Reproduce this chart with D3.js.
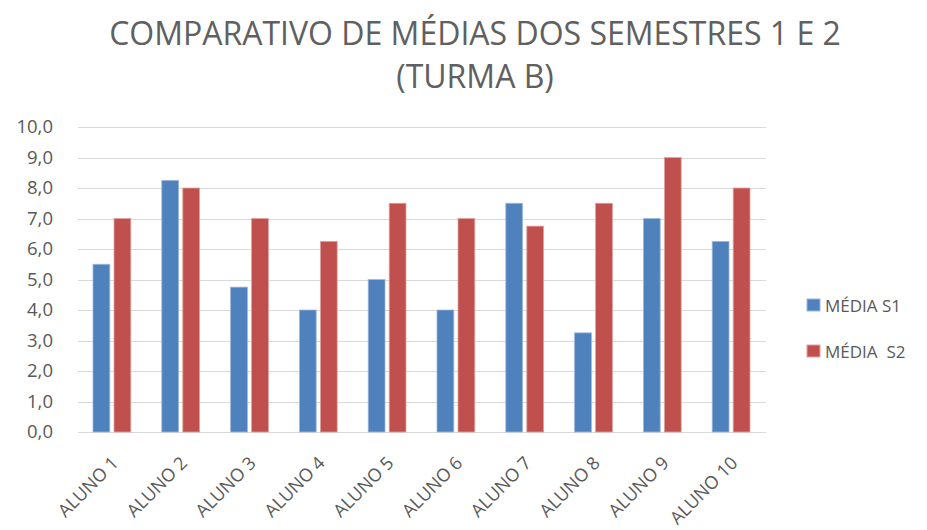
<!DOCTYPE html>
<html>
<head>
<meta charset="utf-8">
<script src="https://cdn.jsdelivr.net/npm/d3@7"></script>
<style>
  body { margin: 0; background: #fff; }
  svg text { font-family: "Open Sans", sans-serif; fill: #595959; }
</style>
</head>
<body>
<div id="chart"></div>
<script>
// dados do gráfico
var alunos = ["ALUNO 1", "ALUNO 2", "ALUNO 3", "ALUNO 4", "ALUNO 5",
              "ALUNO 6", "ALUNO 7", "ALUNO 8", "ALUNO 9", "ALUNO 10"];
var mediaS1 = [5.5, 8.25, 4.75, 4.0, 5.0, 4.0, 7.5, 3.25, 7.0, 6.25];
var mediaS2 = [7.0, 8.0, 7.0, 6.25, 7.5, 7.0, 6.75, 7.5, 9.0, 8.0];
var series = ["MÉDIA S1", "MÉDIA  S2"];
var yTicks = [0, 1, 2, 3, 4, 5, 6, 7, 8, 9, 10];

var W = 927, H = 530;
var margin = { left: 78, right: 161, top: 127, bottom: 98 };

var svg = d3.select("#chart").append("svg")
  .attr("width", W).attr("height", H);

// titulo
var title = svg.append("text")
  .attr("x", 475).attr("text-anchor", "middle")
  .style("font-size", "32px").style("fill", "#606060");
title.append("tspan").attr("x", 475).attr("y", 45).text("COMPARATIVO DE MÉDIAS DOS SEMESTRES 1 E 2");
title.append("tspan").attr("x", 475).attr("y", 88).text("(TURMA B)");

// escalas
var x = d3.scaleBand().domain(alunos)
  .range([margin.left, W - margin.right]);
var x1 = d3.scaleBand().domain([0, 1])
  .range([15, x.bandwidth() - 16]).paddingInner(0.2);
var y = d3.scaleLinear().domain([0, 10])
  .range([H - margin.bottom, margin.top]);

// linhas de grade
svg.append("g").selectAll("line").data(yTicks).enter().append("line")
  .attr("x1", margin.left).attr("x2", W - margin.right)
  .attr("y1", function (d) { return Math.round(y(d)) + 0.5; })
  .attr("y2", function (d) { return Math.round(y(d)) + 0.5; })
  .style("stroke", "#d9d9d9").style("stroke-width", 1.2);

// eixo y
var yAxis = svg.append("g")
  .attr("transform", "translate(" + (margin.left - 8) + ",0)")
  .call(d3.axisLeft(y).tickValues(yTicks).tickSize(0)
    .tickFormat(function (d) { return d.toFixed(1).replace(".", ","); }));
yAxis.select(".domain").remove();
yAxis.selectAll("text").style("font-size", "18.5px").attr("x", -17);

// barras
var cores = ["#4F81BD", "#C0504D"];
var bordas = ["#9db8dc", "#e0a3a1"];
[mediaS1, mediaS2].forEach(function (vals, s) {
  svg.append("g").selectAll("rect").data(vals).enter().append("rect")
    .attr("x", function (d, i) { return x(alunos[i]) + x1(s); })
    .attr("width", x1.bandwidth())
    .attr("y", function (d) { return y(d); })
    .attr("height", function (d) { return y(0) - y(d); })
    .style("fill", cores[s])
    .style("stroke", bordas[s]).style("stroke-width", 0.8);
});

// rotulos eixo x
var xAxis = svg.append("g")
  .attr("transform", "translate(0," + y(0) + ")")
  .call(d3.axisBottom(x).tickSize(0));
xAxis.select(".domain").remove();
xAxis.selectAll("text")
  .style("font-size", "18px")
  .attr("text-anchor", "end")
  .attr("dy", 0)
  .attr("transform", "translate(5,30) rotate(-45)");

// legenda
var leg = svg.append("g").selectAll("g").data(series).enter().append("g")
  .attr("transform", function (d, i) { return "translate(807," + (299 + i * 46) + ")"; });
leg.append("rect").attr("width", 13).attr("height", 12)
  .style("fill", function (d, i) { return cores[i]; })
  .style("stroke", function (d, i) { return bordas[i]; });
leg.append("text").attr("x", 18).attr("y", 12.5)
  .style("font-size", "17px")
  .attr("xml:space", "preserve")
  .text(function (d) { return d; });
</script>
</body>
</html>
